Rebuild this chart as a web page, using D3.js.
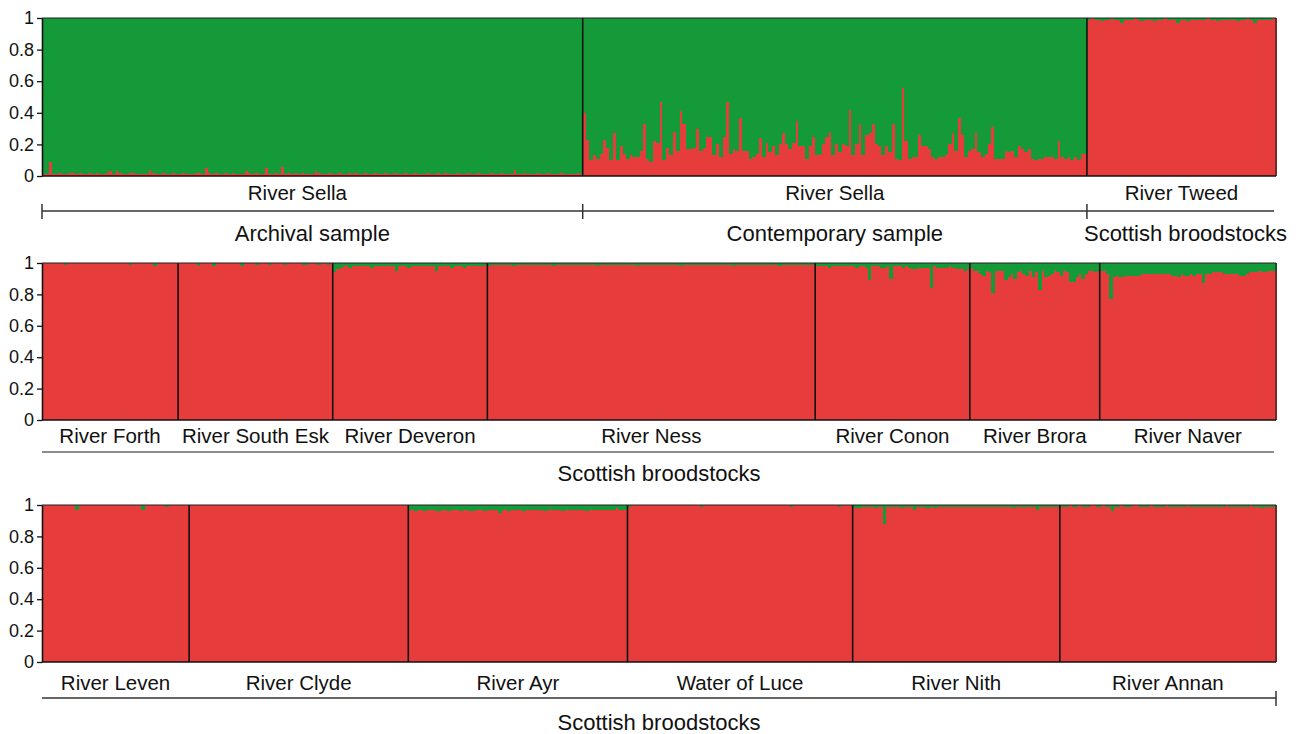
<!DOCTYPE html>
<html>
<head>
<meta charset="utf-8">
<script src="https://cdn.jsdelivr.net/npm/d3@7"></script>
<style>
  body { margin: 0; background: #fff; }
  text { font-family: "Liberation Sans", Arial, Helvetica, sans-serif; fill: #111; }
</style>
</head>
<body>
<div id="chart"></div>
<script>
// membership in the Sella (green) cluster, % per individual; the rest is the Scottish (red) cluster
const archivalSella = [
  99,99,91,99,99,98,99,99,98,98,99,98,99,99,98,99,98,99,
  99,98,97,99,97,98,99,99,98,98,99,99,99,99,96,98,99,99,
  98,99,99,98,99,99,98,99,99,99,98,98,99,95,98,99,98,99,
  99,98,99,98,99,99,99,97,98,99,98,99,99,95,99,99,98,99,
  94,99,98,99,98,99,98,99,99,99,97,98,99,99,98,99,99,98,
  99,99,98,99,98,99,99,98,99,99,98,99,99,98,99,99,98,99,
  99,98,99,99,98,99,99,99,98,99,99,98,99,98,99,99,99,98,
  99,99,98,99,99,98,99,99,99,98,99,99,98,99,99,99,96,99,
  99,98,99,99,99,98,99,99,98,99,99,99,98,99,99,99,99,98,99
];
const contemporarySella = [
  60,77,90,87,89,86,77,82,90,73, 90,81,86,89,87,88,88,84,67,89,
  91,78,79,53,90,82,87,72,84,59, 67,83,83,82,70,84,82,75,75,87,
  80,88,75,53,86,83,84,63,84,84, 89,88,86,76,88,79,85,81,87,80,
  73,80,83,79,65,81,81,89,81,75, 87,86,80,75,72,
  87,80,85,80,81,58,87,80,67,87, 74,73,67,80,81,87,81,85,67,89,
  90,44,78,89,88,88,74,81,81,83, 88,89,88,88,87,80,73,84,63,74,
  88,84,83,73,85,88,86,80,69,89, 89,89,84,85,84,88,81,83,85,83,
  89,90,89,89,88,88,88,89,78,88, 89,88,90,88,90,86,86
];
const riverTweed = [
  1,0,1,1,2,1,1,0,1,1, 3,1,1,1,0,1,2,1,1,1, 2,1,1,0,1,1,1,3,1,1,
  2,1,1,1,1,1,0,1,1,2, 1,1,1,1,1,2,1,1,0,1, 3,1,1,1,1,1,0
];

const riverForth = [
  0,0,0,0,0,0,0,1,0,0, 0,0,0,0,0,0,0,0,0,0, 0,0,0,0,0,0,0,0,1,0,
  0,0,0,0,0,0,2,0,0,0, 0,0,0,0
];
const riverSouthEsk = [
  0,0,0,0,0,0,2,0,0,0, 0,2,0,0,0,0,0,0,0,0, 2,0,0,0,0,1,0,0,0,1,
  0,0,0,0,1,0,0,0,0,0, 1,1,0,0,0,1,0,0,1,0
];
const riverDeveron = [
  6,4,3,2,2,3,2,2,2,2, 2,2,3,2,2,2,2,2,2,2, 5,2,2,2,3,2,2,2,2,2,
  2,2,2,5,2,2,2,2,3,2, 2,2,3,2,2,2,2,2,2,1
];
const riverNess = [
  2,1,1,1,1,1,1,1,2,1, 1,1,1,1,1,1,1,1,1,1, 1,2,1,1,1,1,1,1,1,1,
  1,1,1,1,1,2,1,1,1,1, 1,1,1,1,1,1,1,1,2,1, 1,1,1,1,1,1,1,1,1,1,
  1,1,2,1,1,1,1,1,1,1, 1,1,1,1,1,1,1,1,1,2, 1,1,1,1,1,1,1,1,1,1,
  1,1,1,1,2,1,1,1,1,1, 1,1,1,1,1,1
];
const riverConon = [
  2,2,2,2,3,2,2,2,2,2, 2,2,2,3,2,2,3,11,2,2, 2,3,3,2,10,2,2,2,3,2,
  3,4,4,3,3,3,3,16,2,3, 3,3,3,2,3,3,4,4,5,4
];
const riverBrora = [
  3,5,5,7,8,5,6,19,5,5, 5,11,9,7,10,6,5,7,8,5, 9,6,17,5,9,8,7,5,6,8,
  5,6,12,12,9,7,10,7,5,5, 6,5
];
const riverNaver = [
  5,5,7,23,9,8,9,9,8,8, 8,8,8,7,7,7,7,7,7,7, 7,7,7,8,8,9,7,8,8,7,
  8,7,7,13,7,7,6,6,6,6, 7,7,7,7,7,8,8,7,6,6, 6,5,6,6,5,5,5
];

const riverLeven = [
  0,0,0,0,0,0,0,0,0,0, 0,3,0,0,0,0,0,0,0,0, 0,0,0,0,0,0,0,0,0,0,
  0,0,0,3,0,0,0,0,0,0, 0,1,0,0,0,0,0,0,0
];
const riverClyde = [
  0,0,0,0,0,0,0,0,0,0, 0,0,0,0,0,0,0,0,0,0, 0,0,0,0,0,0,0,0,0,0,
  0,0,0,0,0,0,0,0,0,0, 0,0,0,0,0,0,0,0,0,0, 0,0,0,0,0,0,0,0,0,0,
  0,0,0,0,0,0,0,0,0,0, 0,0,0
];
const riverAyr = [
  3,3,4,3,3,4,3,3,3,4, 4,3,3,4,3,3,3,4,3,3, 4,4,3,3,3,4,3,3,3,3,
  5,3,3,4,3,3,3,3,4,3, 3,3,3,3,3,4,3,3,3,3, 3,4,3,3,3,3,3,3,3,4,
  3,3,3,3,3,3,3,3,3,2, 3,3,3
];
const waterOfLuce = [
  1,0,0,0,0,0,0,0,0,0, 0,0,0,0,0,0,0,0,0,0, 0,0,0,0,1,0,0,0,0,0,
  0,0,0,0,0,0,0,0,0,0, 0,0,0,0,0,0,0,0,0,0, 0,0,0,0,1,0,0,0,0,0,
  0,0,0,0,0,0,0,0,0,0, 1,0,0,0,0
];
const riverNith = [
  2,2,2,1,1,1,1,2,1,1, 12,1,1,1,1,1,2,1,1,1, 3,1,1,1,2,2,1,2,1,1,
  1,1,1,1,1,1,1,1,1,1, 1,1,1,1,1,1,1,1,1,1, 1,1,1,2,1,1,1,1,1,1,
  1,3,1,1,1,1,1,1,1
];
const riverAnnan = [
  1,1,1,0,1,1,0,1,1,1, 0,0,1,1,0,1,1,4,1,1, 0,1,1,1,0,0,1,1,1,1,
  0,1,1,1,1,0,1,1,1,1, 1,1,0,1,1,1,1,1,1,1, 1,1,1,1,1,0,1,1,1,1,
  1,1,1,0,1,1,1,2,1,1, 1,1
];

const panel1Names = ["River Sella", "River Sella", "River Tweed"];
const panel1Samples = ["Archival sample", "Contemporary sample", "Scottish broodstocks"];
const panel2Names = ["River Forth", "River South Esk", "River Deveron", "River Ness", "River Conon", "River Brora", "River Naver"];
const panel3Names = ["River Leven", "River Clyde", "River Ayr", "Water of Luce", "River Nith", "River Annan"];
const yTicks = [0, 0.2, 0.4, 0.6, 0.8, 1];

const panels = [
  { names: panel1Names, values: [archivalSella, contemporarySella, riverTweed],
    samples: panel1Samples, top: 18, bottom: 176, labelDy: 24, sampleDy: 30 },
  { names: panel2Names, values: [riverForth, riverSouthEsk, riverDeveron, riverNess, riverConon, riverBrora, riverNaver],
    samples: ["Scottish broodstocks"], top: 263, bottom: 420, labelDy: 23, sampleDy: 29 },
  { names: panel3Names, values: [riverLeven, riverClyde, riverAyr, waterOfLuce, riverNith, riverAnnan],
    samples: ["Scottish broodstocks"], top: 505, bottom: 662, labelDy: 28, sampleDy: 32 }
];

const width = 1301, height = 734;
const left = 42, right = 1276;
const green = "#149a39", red = "#e73c3c";

const svg = d3.select("#chart").append("svg")
  .attr("width", width)
  .attr("height", height);

panels.forEach((p, pi) => {
  // flatten individuals, remember where each group starts
  const inds = [];
  const starts = [];
  p.values.forEach((arr, gi) => {
    starts.push(inds.length);
    arr.forEach(v => inds.push({ g: gi, v: v / 100 }));
  });
  starts.push(inds.length);

  const x = d3.scaleBand().domain(d3.range(inds.length)).range([left, right]).paddingInner(0);
  const y = d3.scaleLinear().domain([0, 1]).range([p.bottom, p.top]);
  const edge = i => i < inds.length ? x(i) : right;

  const g = svg.append("g");

  // red = Scottish cluster (bottom), green = Sella cluster (top)
  g.selectAll(".red").data(inds).enter().append("rect")
    .attr("x", (d, i) => x(i))
    .attr("width", x.bandwidth() + 0.6)
    .attr("y", d => y(1 - d.v))
    .attr("height", d => y(0) - y(1 - d.v))
    .attr("fill", red)
    .attr("shape-rendering", "crispEdges");

  g.selectAll(".green").data(inds).enter().append("rect")
    .attr("x", (d, i) => x(i))
    .attr("width", x.bandwidth() + 0.6)
    .attr("y", y(1))
    .attr("height", d => y(1 - d.v) - y(1))
    .attr("fill", green)
    .attr("shape-rendering", "crispEdges");

  // group separators
  g.selectAll(".sep").data(starts.slice(1, -1)).enter().append("line")
    .attr("x1", d => edge(d)).attr("x2", d => edge(d))
    .attr("y1", y(1)).attr("y2", y(0))
    .attr("stroke", "#111").attr("stroke-width", 1.6);

  // frame
  g.append("line").attr("x1", left).attr("x2", right).attr("y1", y(1)).attr("y2", y(1))
    .attr("stroke", "#222").attr("stroke-width", 1.2);
  g.append("line").attr("x1", right).attr("x2", right).attr("y1", y(1)).attr("y2", y(0))
    .attr("stroke", "#222").attr("stroke-width", 1.2);
  g.append("line").attr("x1", left).attr("x2", right).attr("y1", y(0)).attr("y2", y(0))
    .attr("stroke", "#111").attr("stroke-width", 1.6);

  const yAxis = d3.axisLeft(y).tickValues(yTicks).tickFormat(d => String(d))
    .tickSize(5).tickPadding(3).tickSizeOuter(0);
  const ax = svg.append("g").attr("transform", `translate(${left},0)`).call(yAxis);
  ax.select(".domain").attr("stroke", "#111").attr("stroke-width", 1.6);
  ax.selectAll(".tick line").attr("stroke", "#111").attr("stroke-width", 1.3);
  ax.selectAll(".tick text").style("font-size", "18px")
    .style("font-family", "'Liberation Sans', Arial, sans-serif").attr("fill", "#111");

  // population labels (the archival Sella label sits a little left of centre)
  g.selectAll(".pop").data(p.names).enter().append("text")
    .attr("x", (d, i) => (edge(starts[i]) + edge(starts[i + 1])) / 2 - (pi === 0 && i === 0 ? 15 : 0))
    .attr("y", y(0) + p.labelDy)
    .attr("text-anchor", "middle")
    .style("font-size", "20.5px")
    .text(d => d);

  // sample bracket and labels
  const by = y(0) + (pi === 0 ? 35 : pi === 1 ? 32 : 36);
  const bracketColor = pi === 1 ? "#666" : "#333";
  g.append("line").attr("x1", left).attr("x2", pi === 2 ? right : right - 2)
    .attr("y1", by).attr("y2", by)
    .attr("stroke", bracketColor).attr("stroke-width", 1.5);

  let tickXs = [];
  if (pi === 0) tickXs = [edge(starts[0]), edge(starts[1]), edge(starts[2])];
  if (pi === 2) tickXs = [right];
  g.selectAll(".btick").data(tickXs).enter().append("line")
    .attr("x1", d => d).attr("x2", d => d)
    .attr("y1", by - 7).attr("y2", by + 8)
    .attr("stroke", "#333").attr("stroke-width", 1.5);

  if (pi === 0) {
    g.selectAll(".sample").data(p.samples).enter().append("text")
      .attr("x", (d, i) => (edge(starts[i]) + edge(starts[i + 1])) / 2 + (i === 2 ? 4 : 0))
      .attr("y", by + p.sampleDy)
      .attr("text-anchor", "middle")
      .style("font-size", "22px")
      .text(d => d);
  } else {
    g.append("text")
      .attr("x", 659)
      .attr("y", by + p.sampleDy)
      .attr("text-anchor", "middle")
      .style("font-size", "22px")
      .text(p.samples[0]);
  }
});
</script>
</body>
</html>
